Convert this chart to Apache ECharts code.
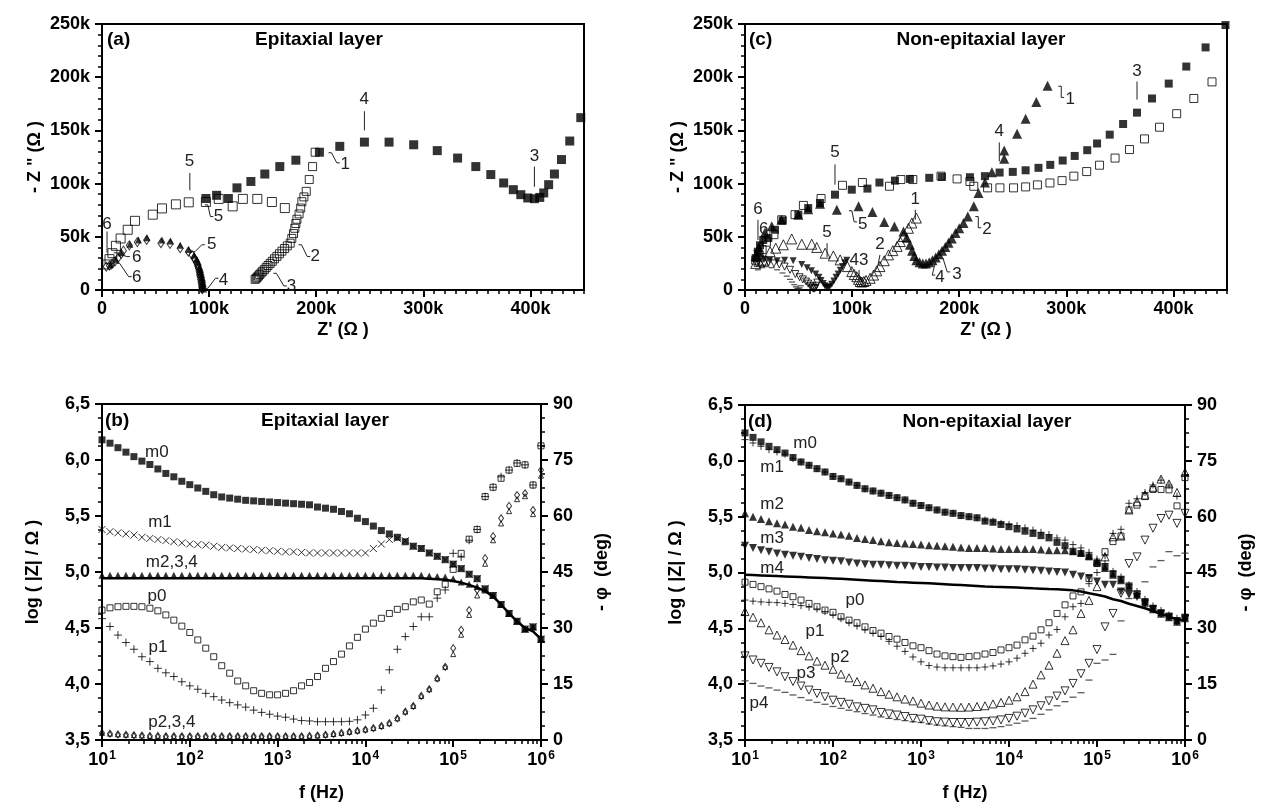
<!DOCTYPE html>
<html>
<head>
<meta charset="utf-8">
<title>Impedance spectra: epitaxial and non-epitaxial layers</title>
<script src="https://cdn.jsdelivr.net/npm/echarts@6.0.0/dist/echarts.min.js"></script>
<style>
  html, body { margin: 0; padding: 0; background: #fff; }
  #chart { width: 1266px; height: 807px; }
</style>
</head>
<body>
<div id="chart"></div>
<script>
// ---------- Frequency sweep (Hz), 11 points per decade ----------
const freq = [10, 12.33, 15.2, 18.74, 23.1, 28.48, 35.11, 43.29, 53.37, 65.79, 81.11,
  100, 123.3, 152, 187.4, 231, 284.8, 351.1, 432.9, 533.7, 657.9, 811.1,
  1000, 1233, 1520, 1874, 2310, 2848, 3511, 4329, 5337, 6579, 8111,
  10000, 12330, 15200, 18740, 23100, 28480, 35110, 43290, 53370, 65790, 81110,
  100000, 123300, 152000, 187400, 231000, 284800, 351100, 432900, 533700, 657900, 811100,
  1000000];

// ---------- (a) Nyquist, epitaxial layer: [Z' kOhm, -Z'' kOhm] ----------
const epiNyqFilledSq = [[97,86],[107,89],[118,86],[126,96],[139,102],[152,109],[166,116],[181,122],[203,129.5],[222,135],[245,139],[268,139],[291,136.5],[313,131],[332,124],[349,116],[363,108.5],[375,100.6],[384,94.3],[391,89.6],[397.5,86.5],[403.7,85.8],[408.7,87],[412.4,91.2],[417,99],[422.4,109],[429,122.6],[436.7,140],[447,162]];
const epiNyqOpenSq = [[5,24],[7,29],[9.7,34.6],[13,41.5],[17.4,48.4],[24,56.6],[30.8,65],[47.4,70.8],[56,76.7],[69,80.5],[81,82.4],[97,82.7],[109,85.6],[122,78.6],[131.5,85.6],[145,85.6],[158.6,82.7],[170.7,77]];
const epiNyqOpenSq2 = [[143,10],[144,11],[145,12],[146,13.2],[147.2,14.5],[148.5,16],[150,17.5],[151.6,19.2],[153.3,21],[155,23],[157,25],[159,27],[161,29.3],[163.3,31.6],[165.6,34],[168,36.5],[170.5,39],[173,41.5],[175.7,44],[177.2,48.5],[178.8,53],[180,58],[181,62.5],[182,66.5],[184,71.5],[185.5,77],[186.6,83],[188.5,87.5],[190.7,92.7],[193.5,103.8],[196.6,116],[199,129.5]];
const epiNyqDiamond = [[4,22],[6.9,23],[9.5,25],[12,26.7],[15,30],[18,34],[20,37],[25.5,42],[33,45],[41.7,47],[55,44],[63.5,43.4],[73,39.3],[80.6,36],[84,33],[86,30],[87,28.3],[88,26],[89,24],[89.5,22],[90,20.4],[90.5,18],[91,16],[91.2,14],[91.6,12.5],[92,10],[92.3,8],[92.6,6],[93,4],[93.2,2.5],[93.5,1.5],[93.6,0.8]];
const epiNyqTri = [[8,24],[13,29],[18,35],[26,43],[34,47],[42,49],[56,47],[64,46],[73,42],[81,38],[86,33],[88.5,29],[90,26],[91,22],[92,19.5],[92.5,17],[93,14.5],[93.5,12],[94,10],[94,8],[94.5,6],[94.5,4],[95,2.5],[95,1]];

// ---------- (c) Nyquist, non-epitaxial layer ----------
const nonNyqFilledSq = [[10,30],[12,36],[14,42],[17,47],[21.8,48.8],[28,56.6],[35.2,65.4],[49.8,70.8],[59,77],[70,81.8],[84,89.6],[99.7,94.3],[114.3,95.3],[125.5,101],[140,102.8],[154,104.4],[172,105.4],[183.8,106.3],[210,106],[224,107],[237.7,110.4],[250,111],[262,112.5],[274,114.8],[285,117.6],[296.6,121.7],[307.8,126],[319.5,131.4],[328.7,137.7],[340.5,146],[353,156],[366,166.7],[380,180],[395.6,194],[412,210],[430,228],[448.6,249]];
const nonNyqOpenSq = [[10,28],[13,33],[16,38],[20,45],[27,52],[34.3,66],[46.7,70.8],[54.5,79.5],[71,86],[91,98.4],[109.6,101],[134.9,97.5],[145.5,103.8],[156.7,103.8],[183,107],[198,104.4],[210,102],[213.6,97.5],[226.5,96],[238,96],[250.7,96],[262,96.9],[273,98.8],[284.7,100.6],[296,102.8],[307,107],[319,111.3],[331,117.3],[345.5,124],[359,132],[373,142],[387,153],[403,165.7],[419,180],[436,195.6]];
const nonNyqFilledTri = [[10,32],[13,40],[18.7,54],[25,60],[34,66],[49.8,70.8],[59,76],[70,81],[85.7,75.5],[106,78.6],[119,73.3],[130,63.9],[139.5,59.7],[148,55],[151,49],[154,42.5],[156,37],[158,32],[160,28],[163,26],[166,25],[169,25],[172,26],[175,28],[178,30.5],[181,33.5],[184,37],[187,40.5],[190,44.5],[193,48.5],[196.5,53.5],[200,58],[204,63],[208,69],[213.6,78.6],[218,91.2],[224,101],[230.5,110.7],[242,123.3],[242,131],[254,146.8],[262,161],[272,176.7],[282.5,192]];
const nonNyqOpenTri = [[10,25],[13,27],[17,28],[23.4,36],[28.7,39.3],[35.8,42.5],[43.6,48],[53,43],[62.3,43],[67,40],[74.8,34.6],[82.5,32],[88.8,28.3],[95.6,22],[99.7,17.3],[102,14.5],[104.4,12.5],[106,10],[107.5,8],[109,7.5],[111,8],[113,9],[116.8,11],[120,14],[123,18],[126,22],[130,27.5],[134,33],[138,37],[142,41],[145,45.5],[148,50.3],[152.6,58],[155.8,63],[160,67.6]];
const nonNyqFilledDown = [[11,34],[14,31],[18,29],[23,28],[30,27.5],[37,28],[45,27.6],[53,24],[58,21],[62,18],[66,15],[69,12],[71,9],[73,6],[74.5,4],[76,2.5],[77.5,2],[79,3],[81,5.5],[83,8.5],[85,12],[87,15],[89,18.5],[91,22],[93,25.5],[95,28]];
const nonNyqOpenDown = [[11,25],[14,24],[18,25],[22,26],[27,25],[32,24],[37,22],[42,19],[47,15],[51,12],[54,10],[57,8],[59,6],[61,4],[62.5,2.5],[63.5,1.5],[64.5,1.2],[65.5,2],[66.5,4],[67.5,7]];
const nonNyqDash = [[12,19],[16,21],[20,22],[25,21],[30,19],[35,16],[39,13],[42,10],[44,7.5],[46,5],[47.5,3],[49,1.5],[50,1],[51,2],[52,4]];

// ---------- (b) Bode, epitaxial layer ----------
// log(|Z|/Ohm)
const epiM0 = [6.18,6.15,6.11,6.07,6.03,5.99,5.96,5.92,5.88,5.85,
  5.81,5.78,5.75,5.72,5.69,5.67,5.66,5.65,5.64,5.635,
  5.63,5.625,5.62,5.615,5.61,5.605,5.60,5.58,5.57,5.56,
  5.54,5.52,5.48,5.45,5.41,5.37,5.34,5.31,5.27,5.23,
  5.21,5.17,5.14,5.11,5.07,5.03,4.98,4.94,4.85,4.79,
  4.71,4.63,4.56,4.49,4.51,4.40];
const epiM1 = [5.38,5.36,5.35,5.34,5.33,5.31,5.30,5.29,5.28,5.27,
  5.26,5.25,5.245,5.24,5.23,5.22,5.215,5.21,5.205,5.20,
  5.195,5.19,5.185,5.18,5.18,5.175,5.17,5.17,5.17,5.17,
  5.17,5.17,5.17,5.17,5.21,5.25,5.29,5.30,5.28,5.23,
  5.21,5.17,5.14,5.11,5.07,5.03,4.98,4.94,4.85,4.79,
  4.71,4.63,4.56,4.49,4.51,4.40];
const epiM234 = [4.97,4.97,4.97,4.97,4.97,4.97,4.97,4.97,4.97,4.97,
  4.97,4.97,4.97,4.97,4.97,4.97,4.97,4.97,4.97,4.97,
  4.97,4.97,4.97,4.97,4.97,4.97,4.97,4.97,4.97,4.97,
  4.97,4.97,4.97,4.97,4.97,4.97,4.97,4.97,4.97,4.97,
  4.97,4.965,4.96,4.955,4.94,4.91,4.89,4.87,4.84,4.79,
  4.71,4.63,4.56,4.49,4.51,4.40];
const epiM234Trace = [4.945,4.945,4.945,4.945,4.945,4.945,4.945,4.945,4.945,4.945,
  4.945,4.945,4.945,4.945,4.945,4.945,4.945,4.945,4.945,4.945,
  4.945,4.945,4.945,4.945,4.945,4.945,4.945,4.945,4.945,4.945,
  4.945,4.945,4.945,4.945,4.945,4.945,4.945,4.945,4.945,4.945,
  4.945,4.94,4.935,4.93,4.92,4.905,4.885,4.86,4.83,4.78,
  4.71,4.63,4.56,4.50,4.47,4.40];
// -phase (deg)
const epiP0 = [34.8,35.4,35.7,35.8,35.8,35.7,35.3,34.6,33.5,32.1,
  30.5,28.8,26.8,24.6,22.3,19.9,17.9,15.8,14.5,13.2,
  12.5,12.1,12.1,12.5,13.2,14.5,15.4,17.0,19.2,21.0,
  23.0,25.2,27.5,29.7,31.3,32.6,33.9,35.0,35.7,37.0,
  37.5,36.4,39.7,41.7,45.7,50.0,53.8,56.4,65.2,67.7,
  70.1,72.3,74.1,73.7,68.3,78.8];
const epiP1 = [32.5,30.4,28.1,26.1,24.3,22.3,21.0,19.2,18.0,17.0,
  15.6,14.5,13.6,12.5,11.6,10.7,10.0,9.4,8.8,8.0,
  7.4,6.9,6.4,6.1,5.6,5.2,5.1,4.9,4.9,4.9,
  4.9,5.0,5.4,6.7,8.5,13.4,18.8,24.3,27.7,30.4,
  33.0,33.0,38.0,40.2,50.0,49.0,53.5,56.4,65.2,67.7,
  70.5,72.3,74.2,73.7,68.3,78.8];
const epiP2 = [1.9,1.7,1.5,1.4,1.3,1.2,1.1,1.1,1.0,1.0,
  1.0,1.0,1.0,1.0,1.0,1.0,1.0,1.0,1.0,1.0,
  1.0,1.0,1.0,1.0,1.0,1.0,1.1,1.2,1.4,1.6,
  1.9,2.2,2.5,2.8,3.2,3.75,4.5,5.8,7.6,9.1,
  11.8,13.6,16.5,19.6,24.6,29.5,34.8,40.2,48.7,54.6,
  59.4,62.7,65.6,66.1,61.6,72.3];
const epiP3 = [1.9,1.7,1.5,1.4,1.3,1.2,1.1,1.1,1.0,1.0,
  1.0,1.0,1.0,1.0,1.0,1.0,1.0,1.0,1.0,1.0,
  1.0,1.0,1.0,1.0,1.0,1.0,1.1,1.2,1.4,1.6,
  1.9,2.2,2.5,2.8,3.2,3.75,4.5,5.8,7.6,9.1,
  11.8,13.6,16.5,19.6,23.0,28.2,33.5,38.7,47.2,53.5,
  58.0,61.3,64.5,65.3,60.5,70.8];

// ---------- (d) Bode, non-epitaxial layer ----------
const nonM0 = [6.25,6.21,6.17,6.13,6.10,6.07,6.03,5.99,5.96,5.93,
  5.90,5.86,5.84,5.81,5.78,5.75,5.73,5.71,5.69,5.67,
  5.65,5.62,5.60,5.58,5.56,5.54,5.53,5.51,5.50,5.49,
  5.46,5.45,5.43,5.41,5.39,5.37,5.35,5.33,5.31,5.27,
  5.24,5.19,5.17,5.14,5.08,5.05,4.99,4.94,4.88,4.81,
  4.74,4.68,4.64,4.61,4.57,4.60];
const nonM1 = [6.19,6.16,6.13,6.10,6.08,6.06,6.02,5.99,5.96,5.93,
  5.90,5.86,5.84,5.81,5.78,5.75,5.73,5.71,5.69,5.67,
  5.65,5.62,5.60,5.58,5.56,5.54,5.53,5.51,5.50,5.49,
  5.47,5.46,5.44,5.43,5.42,5.40,5.38,5.36,5.34,5.31,
  5.29,5.25,5.22,5.18,5.12,5.08,5.01,4.96,4.89,4.83,
  4.76,4.70,4.66,4.62,4.59,4.62];
const nonM2 = [5.53,5.50,5.48,5.46,5.44,5.43,5.41,5.40,5.38,5.37,
  5.36,5.35,5.34,5.33,5.31,5.30,5.29,5.28,5.27,5.265,
  5.26,5.255,5.25,5.245,5.24,5.235,5.23,5.225,5.22,5.22,
  5.22,5.215,5.21,5.21,5.21,5.21,5.21,5.205,5.20,5.20,
  5.20,5.19,5.18,5.15,5.10,5.04,4.98,4.93,4.87,4.80,
  4.73,4.67,4.63,4.60,4.56,4.59];
const nonM3 = [5.24,5.22,5.20,5.185,5.17,5.16,5.15,5.14,5.13,5.12,
  5.11,5.105,5.10,5.09,5.08,5.075,5.07,5.07,5.065,5.06,
  5.06,5.055,5.05,5.05,5.045,5.045,5.04,5.04,5.04,5.04,
  5.035,5.035,5.03,5.03,5.03,5.025,5.02,5.015,5.01,5.005,
  5.0,4.98,4.965,4.95,4.92,4.89,4.89,4.83,4.80,4.78,
  4.72,4.67,4.63,4.60,4.56,4.58];
const nonM4 = [4.98,4.977,4.974,4.971,4.968,4.965,4.962,4.959,4.956,4.953,
  4.95,4.947,4.943,4.939,4.935,4.931,4.927,4.923,4.919,4.915,
  4.912,4.909,4.906,4.903,4.899,4.895,4.891,4.887,4.883,4.879,
  4.875,4.872,4.870,4.868,4.865,4.862,4.858,4.855,4.852,4.85,
  4.845,4.84,4.83,4.815,4.80,4.785,4.76,4.745,4.72,4.70,
  4.68,4.655,4.63,4.605,4.58,4.57];
const nonP0 = [42.4,41.8,41.2,40.6,40.0,39.1,38.5,37.6,36.7,35.8,
  34.9,34.3,33.1,32.2,31.5,30.4,29.4,28.7,27.8,27.1,
  26.2,25.3,24.8,24.0,23.1,22.6,22.4,22.2,22.4,22.6,
  23.1,23.5,24.2,24.8,25.5,26.9,27.9,29.6,31.5,34.0,
  36.3,38.7,39.8,43.4,47.5,50.6,53.3,54.8,61.8,63.1,
  65.4,67.3,67.3,67.2,62.9,70.5];
const nonP1 = [37.6,37.3,37.1,37.0,36.9,36.7,36.4,36.1,35.7,35.2,
  34.5,33.6,32.6,31.5,30.6,29.6,28.7,27.8,26.5,25.2,
  23.8,22.3,21.0,20.0,19.6,19.4,19.4,19.4,19.4,19.4,
  19.6,19.9,20.4,21.0,22.0,23.3,24.6,26.0,28.2,29.7,
  33.1,35.8,36.7,42.0,45.0,49.5,55.5,56.6,63.6,64.8,
  66.5,68.5,69.8,68.5,65.5,71.0];
const nonP2 = [34.5,33.0,31.5,29.6,28.2,27.0,25.5,24.0,22.6,21.2,
  20.1,19.0,17.7,16.7,15.7,14.8,13.9,13.0,12.3,11.6,
  11.0,10.5,9.9,9.4,9.1,8.9,8.85,8.8,8.85,9.0,
  9.2,9.7,10.1,10.7,11.6,13.0,15.0,17.5,20.1,23.3,
  26.7,29.6,34.0,37.5,41.2,49.2,54.6,54.8,61.8,64.0,
  65.8,67.9,70.1,68.8,66.5,71.9];
const nonP3 = [22.6,21.5,20.6,19.5,18.3,17.0,15.7,14.5,13.4,12.5,
  11.6,10.7,10.1,9.6,8.9,8.5,8.1,7.4,7.0,6.7,
  6.3,5.8,5.6,5.2,4.9,4.8,4.7,4.7,4.7,4.8,
  4.9,5.1,5.4,5.8,6.4,7.2,8.1,9.2,10.5,11.8,
  13.2,15.2,17.8,20.6,24.3,30.4,34.0,39.4,47.4,49.2,
  53.7,56.9,59.5,60.4,58.2,60.9];
const nonP4 = [15.9,15.2,14.5,14.0,13.4,12.8,12.1,11.4,10.7,10.1,
  9.6,9.0,8.5,8.0,7.6,7.1,6.7,6.2,5.8,5.5,
  5.2,4.9,4.7,4.3,4.0,3.8,3.6,3.4,3.1,3.1,
  3.1,3.3,3.6,4.0,4.5,5.1,5.8,6.9,8.1,9.2,
  10.3,11.5,12.7,16.1,20.6,21.5,23.0,32.0,38.0,40.0,
  42.5,46.5,48.2,50.6,49.5,50.2];

// ---------- Frequency markers on the Nyquist plots (data units) ----------
const epiNyqNotes = [
  { t: '6', at: [4.7, 62], line: [[4.7, 55], [4.7, 35]] },
  { t: '6', at: [32.4, 30.8], line: [[11, 35], [26, 31.4]], hook: true },
  { t: '6', at: [32.4, 12], line: [[13.7, 25], [27.7, 12.5]], hook: true },
  { t: '5', at: [102.5, 42.5], line: [[84, 36], [96, 42.5]], hook: true },
  { t: '4', at: [113.4, 9.4], line: [[96, 1.6], [108.7, 11]], hook: true },
  { t: '5', at: [81.6, 121], line: [[82, 110], [82, 93.7]] },
  { t: '5', at: [108.7, 69], line: [[96, 80], [104, 69]], hook: true },
  { t: '4', at: [244.9, 179], line: [[245, 168], [245, 150]] },
  { t: '3', at: [403.7, 125.8], line: [[403.7, 116], [403.7, 97]] },
  { t: '1', at: [227, 118], line: [[211.5, 129], [222, 119.5]], hook: true },
  { t: '2', at: [199, 31.4], line: [[183.5, 42.5], [194.4, 31.4]], hook: true },
  { t: '3', at: [177, 3.8], line: [[160, 15.7], [172.6, 3.8]], hook: true }
];
const nonNyqNotes = [
  { t: '6', at: [12.1, 75.5], line: [[12.1, 66], [12.1, 47]] },
  { t: '6', at: [17.5, 56.6] },
  { t: '5', at: [84, 129], line: [[84, 118], [84, 99]] },
  { t: '5', at: [110, 62], line: [[97, 74.5], [104.7, 64]], hook: true },
  { t: '5', at: [76.6, 53.8], line: [[76.6, 44], [76.6, 31]] },
  { t: '1', at: [159, 85], line: [[159, 75.5], [159, 66]] },
  { t: '2', at: [126, 42.5], line: [[126, 33], [124, 22.6]] },
  { t: '43', at: [106.5, 28.3], line: [[106.5, 18.9], [106.5, 8.5]] },
  { t: '4', at: [182, 12.3], line: [[175, 26.4], [177.6, 14]], hook: true },
  { t: '3', at: [198, 15], line: [[182, 30], [191.6, 17]], hook: true },
  { t: '2', at: [226, 56.6], line: [[215, 69], [220.6, 58.5]], hook: true },
  { t: '4', at: [237.4, 149], line: [[237.4, 138.7], [237.4, 120.8]] },
  { t: '1', at: [303.7, 179], line: [[292.5, 191.5], [298, 181]], hook: true },
  { t: '3', at: [366, 205.7], line: [[366, 196], [366, 179]] }
];
// Curve names on the Bode plots: [f (Hz), log|Z|]
const epiBodeTags = [
  { t: 'm0', at: [42.2, 6.07] }, { t: 'm1', at: [45.7, 5.44] }, { t: 'm2,3,4', at: [62.4, 5.09] },
  { t: 'p0', at: [42.2, 4.78] }, { t: 'p1', at: [43.3, 4.33] }, { t: 'p2,3,4', at: [62.4, 3.66] }
];
const nonBodeTags = [
  { t: 'm0', at: [48.1, 6.16] }, { t: 'm1', at: [20.3, 5.94] }, { t: 'm2', at: [20.3, 5.61] },
  { t: 'm3', at: [20.3, 5.31] }, { t: 'm4', at: [20.3, 5.04] }, { t: 'p0', at: [178, 4.75] },
  { t: 'p1', at: [62.4, 4.47] }, { t: 'p2', at: [120, 4.24] }, { t: 'p3', at: [49.3, 4.10] },
  { t: 'p4', at: [14.4, 3.83] }
];

// ---------- helpers ----------
const FONT = '"Liberation Sans", Arial, Helvetica, sans-serif';

function clean(o) {
  Object.keys(o).forEach(k => {
    if (o[k] === undefined) delete o[k];
    else if (o[k] && typeof o[k] === 'object' && !Array.isArray(o[k])) clean(o[k]);
  });
  return o;
}

const kLabel = v => (v === 0 ? '0' : v + 'k');
const commaLabel = v => v.toFixed(1).replace('.', ',');
const powLabel = v => '{b|10}{s|' + Math.round(Math.log10(v)) + '}';
const POW_RICH = {
  b: { fontFamily: FONT, fontSize: 18, fontWeight: 'bold', color: '#000' },
  s: { fontFamily: FONT, fontSize: 12, fontWeight: 'bold', color: '#000', verticalAlign: 'top', padding: [0, 0, 9, 1] }
};

function axis(o) {
  return clean({
    gridIndex: o.grid, type: o.type || 'value', position: o.position,
    min: o.min, max: o.max, interval: o.interval, logBase: o.logBase,
    name: o.name, nameLocation: 'middle', nameGap: o.nameGap, nameRotate: o.nameRotate,
    nameTextStyle: { color: '#000', fontFamily: FONT, fontSize: 18, fontWeight: 'bold' },
    axisLine: { show: o.line !== false, onZero: false, lineStyle: { color: '#000', width: 2 } },
    axisTick: { show: true, inside: false, length: o.tickLen || 7, lineStyle: { color: '#000', width: o.tickW || 2 } },
    minorTick: { show: !!o.minor, splitNumber: o.minor || 5, length: 4, lineStyle: { color: '#000', width: 1.5 } },
    splitLine: { show: false },
    minorSplitLine: { show: false },
    axisLabel: {
      show: o.label !== false, color: '#000', fontFamily: FONT, fontSize: 18, fontWeight: 'bold',
      margin: o.margin || 10, formatter: o.fmt, rich: o.rich, showMaxLabel: o.showMax
    }
  });
}

const FILL = { color: '#000' };
const OPEN = { color: 'rgba(0,0,0,0)', borderColor: '#000', borderWidth: 1 };
const DASH = { color: '#333' };
const STROKE = { color: 'rgba(0,0,0,0)', borderColor: '#000', borderWidth: 1 };
const PLUS = 'path://M5,0L5,10M0,5L10,5';
const CROSS = 'path://M0,0L10,10M10,0L0,10';

function pts(data, xi, yi, symbol, size, style, rotate) {
  return clean({
    type: 'scatter', xAxisIndex: xi, yAxisIndex: yi, data: data,
    symbol: symbol, symbolSize: size, symbolRotate: rotate,
    itemStyle: Object.assign({}, style), silent: true
  });
}
const bode = vals => freq.map((f, i) => [f, vals[i]]);

function notes(xi, yi, list, font) {
  return {
    type: 'custom', xAxisIndex: xi, yAxisIndex: yi, silent: true, z: 10,
    data: list.map(n => n.at),
    renderItem: function (params, api) {
      const n = list[params.dataIndex];
      const c = api.coord(n.at);
      const kids = [{
        type: 'text',
        style: { text: n.t, x: c[0], y: c[1], align: 'center', verticalAlign: 'middle', font: font, fill: '#222' }
      }];
      if (n.line) {
        const p = api.coord(n.line[0]);
        const q = api.coord(n.line[1]);
        const points = n.hook
          ? [p, [p[0] + 3, p[1]], [q[0] - 3, q[1]], q]
          : [p, q];
        kids.push({ type: 'polyline', shape: { points: points }, style: { stroke: '#222', lineWidth: 1, fill: null } });
      }
      return { type: 'group', children: kids };
    }
  };
}

// ---------- layout: (a) top-left, (c) top-right, (b) bottom-left, (d) bottom-right ----------
const grids = [
  { left: 102, top: 24, width: 482, height: 266 },
  { left: 745, top: 24, width: 482, height: 266 },
  { left: 102, top: 404, width: 439, height: 336 },
  { left: 745, top: 405, width: 440, height: 335 }
].map(g => Object.assign(g, { show: true, borderColor: '#000', borderWidth: 2, backgroundColor: 'transparent' }));

const xAxes = [
  axis({ grid: 0, position: 'bottom', min: 0, max: 450, interval: 100, fmt: kLabel, showMax: false, name: "Z' (Ω )", nameGap: 31 }),
  axis({ grid: 0, position: 'bottom', min: 0, max: 450, interval: 10, line: false, label: false, tickLen: 4, tickW: 1.5 }),
  axis({ grid: 1, position: 'bottom', min: 0, max: 450, interval: 100, fmt: kLabel, showMax: false, name: "Z' (Ω )", nameGap: 31 }),
  axis({ grid: 1, position: 'bottom', min: 0, max: 450, interval: 10, line: false, label: false, tickLen: 4, tickW: 1.5 }),
  axis({ grid: 2, position: 'bottom', type: 'log', logBase: 10, min: 10, max: 1e6, minor: 9, fmt: powLabel, rich: POW_RICH, name: 'f (Hz)', nameGap: 44 }),
  axis({ grid: 3, position: 'bottom', type: 'log', logBase: 10, min: 10, max: 1e6, minor: 9, fmt: powLabel, rich: POW_RICH, name: 'f (Hz)', nameGap: 44 })
];
const yAxes = [
  axis({ grid: 0, position: 'left', min: 0, max: 250, interval: 50, minor: 5, fmt: kLabel, name: '- Z " (Ω )', nameGap: 58, margin: 12 }),
  axis({ grid: 1, position: 'left', min: 0, max: 250, interval: 50, minor: 5, fmt: kLabel, name: '- Z " (Ω )', nameGap: 58, margin: 12 }),
  axis({ grid: 2, position: 'left', min: 3.5, max: 6.5, interval: 0.5, minor: 4, fmt: commaLabel, name: 'log ( |Z| / Ω )', nameGap: 60, margin: 12 }),
  axis({ grid: 2, position: 'right', min: 0, max: 90, interval: 15, minor: 4, name: '- φ  (deg)', nameGap: 52, nameRotate: 90, margin: 12 }),
  axis({ grid: 3, position: 'left', min: 3.5, max: 6.5, interval: 0.5, minor: 4, fmt: commaLabel, name: 'log ( |Z| / Ω )', nameGap: 60, margin: 12 }),
  axis({ grid: 3, position: 'right', min: 0, max: 90, interval: 15, minor: 4, name: '- φ  (deg)', nameGap: 52, nameRotate: 90, margin: 12 })
];

const series = [
  // (a)
  pts(epiNyqDiamond, 0, 0, 'diamond', [6, 9], OPEN),
  pts(epiNyqTri, 0, 0, 'triangle', 7, FILL),
  pts(epiNyqOpenSq2, 0, 0, 'rect', 8, OPEN),
  pts(epiNyqOpenSq, 0, 0, 'rect', 9, OPEN),
  pts(epiNyqFilledSq, 0, 0, 'rect', 9, FILL),
  notes(0, 0, epiNyqNotes, '17px ' + FONT),
  // (c)
  pts(nonNyqDash, 2, 1, 'rect', [6, 1.3], DASH),
  pts(nonNyqOpenDown, 2, 1, 'triangle', 7, OPEN, 180),
  pts(nonNyqFilledDown, 2, 1, 'triangle', 7, FILL, 180),
  pts(nonNyqOpenTri, 2, 1, 'triangle', 10, OPEN),
  pts(nonNyqFilledTri, 2, 1, 'triangle', 10, FILL),
  pts(nonNyqOpenSq, 2, 1, 'rect', 8, OPEN),
  pts(nonNyqFilledSq, 2, 1, 'rect', 8, FILL),
  notes(2, 1, nonNyqNotes, '17px ' + FONT),
  // (b) modulus (left axis)
  {
    type: 'line', xAxisIndex: 4, yAxisIndex: 2, data: bode(epiM234Trace), showSymbol: false,
    lineStyle: { color: '#000', width: 2.5 }, silent: true
  },
  pts(bode(epiM234), 4, 2, 'triangle', 7, FILL),
  pts(bode(epiM1), 4, 2, CROSS, 7, STROKE),
  pts(bode(epiM0), 4, 2, 'rect', 7, FILL),
  // (b) phase (right axis)
  pts(bode(epiP3), 4, 3, 'triangle', 5, OPEN),
  pts(bode(epiP2), 4, 3, 'diamond', [5, 7], OPEN),
  pts(bode(epiP1), 4, 3, PLUS, 8, STROKE),
  pts(bode(epiP0), 4, 3, 'rect', 6, OPEN),
  notes(4, 2, epiBodeTags, '17px ' + FONT),
  // (d) modulus (left axis)
  {
    type: 'line', xAxisIndex: 5, yAxisIndex: 4, data: bode(nonM4), showSymbol: false,
    lineStyle: { color: '#000', width: 2.5 }, silent: true
  },
  pts(bode(nonM3), 5, 4, 'triangle', 8, FILL, 180),
  pts(bode(nonM2), 5, 4, 'triangle', 8, FILL),
  pts(bode(nonM1), 5, 4, PLUS, 7, STROKE),
  pts(bode(nonM0), 5, 4, 'rect', 7, FILL),
  // (d) phase (right axis)
  pts(bode(nonP4), 5, 5, 'rect', [7, 1.3], DASH),
  pts(bode(nonP3), 5, 5, 'triangle', 8, OPEN, 180),
  pts(bode(nonP2), 5, 5, 'triangle', 8, OPEN),
  pts(bode(nonP1), 5, 5, PLUS, 7, STROKE),
  pts(bode(nonP0), 5, 5, 'rect', 6, OPEN),
  notes(5, 4, nonBodeTags, '17px ' + FONT)
];

// Panel letters and titles
const BOLD19 = 'bold 19px ' + FONT;
const panelText = (x, y, text, align) => ({
  type: 'text', x: x, y: y, silent: true, z: 20,
  style: { text: text, font: BOLD19, fill: '#000', align: align, verticalAlign: 'middle' }
});
const graphic = [
  panelText(107, 40, '(a)', 'left'), panelText(319, 40, 'Epitaxial layer', 'center'),
  panelText(749, 40, '(c)', 'left'), panelText(981, 40, 'Non-epitaxial layer', 'center'),
  panelText(105, 421, '(b)', 'left'), panelText(325, 421, 'Epitaxial layer', 'center'),
  panelText(748, 422, '(d)', 'left'), panelText(987, 422, 'Non-epitaxial layer', 'center')
];

const chart = echarts.init(document.getElementById('chart'), null, { renderer: 'canvas' });
chart.setOption({
  animation: false,
  backgroundColor: '#fff',
  textStyle: { fontFamily: FONT },
  grid: grids,
  xAxis: xAxes,
  yAxis: yAxes,
  graphic: graphic,
  series: series
});
</script>
</body>
</html>
